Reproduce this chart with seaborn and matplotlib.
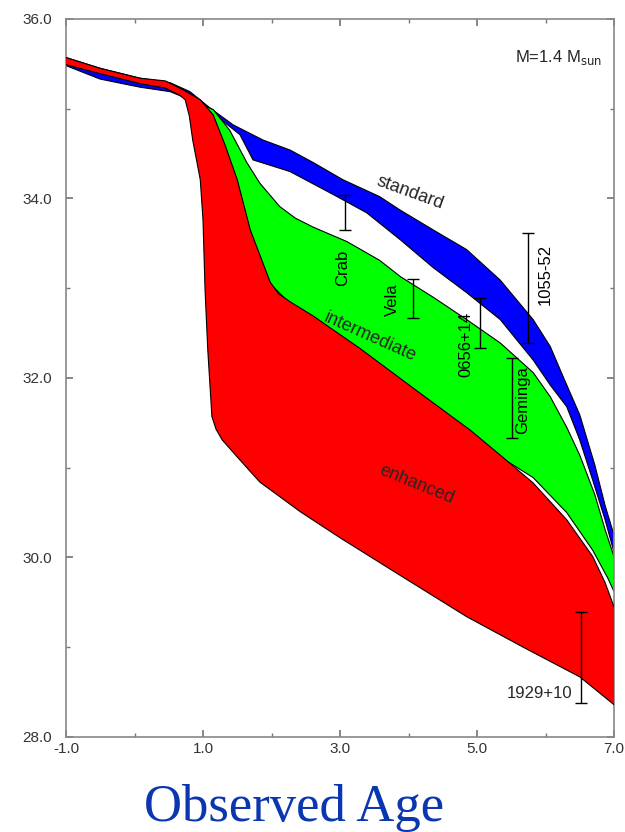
import numpy as np
import matplotlib
matplotlib.use("Agg")
import matplotlib.pyplot as plt
import seaborn as sns
from matplotlib.ticker import FormatStrFormatter

# ------------------------------------------------------------------
# cooling bands (x = log age, y = log L)
# ------------------------------------------------------------------
std_up_x = [-1.0, -0.5, 0.08, 0.52, 0.81, 1.10, 1.44, 1.88, 2.27, 2.61, 3.04, 3.58,
            3.88, 4.36, 4.85, 5.34, 5.82, 6.07, 6.26, 6.50, 6.72, 6.87, 7.0]
std_up_y = [35.57, 35.45, 35.34, 35.29, 35.19, 35.01, 34.82, 34.65, 34.54, 34.40, 34.21, 34.02,
            33.87, 33.65, 33.43, 33.09, 32.65, 32.35, 32.01, 31.59, 31.03, 30.58, 30.25]
std_lo_x = [-1.0, -0.5, 0.08, 0.52, 0.88, 1.18, 1.54, 1.73, 2.27, 2.96, 3.39, 3.88,
            4.36, 4.85, 5.34, 5.82, 6.07, 6.31, 6.50, 6.69, 6.87, 7.0]
std_lo_y = [35.48, 35.33, 35.24, 35.19, 35.08, 34.93, 34.71, 34.43, 34.30, 34.02, 33.84, 33.54,
            33.23, 32.95, 32.65, 32.20, 31.92, 31.68, 31.31, 30.86, 30.42, 30.06]

int_up_x = [-1.0, 0.08, 0.71, 0.81, 1.15, 1.39, 1.64, 1.83, 2.12, 2.35, 2.61, 3.10, 3.58,
            3.88, 4.36, 4.85, 5.34, 5.82, 6.07, 6.31, 6.50, 6.72, 6.87, 7.0]
int_up_y = [35.55, 35.32, 35.20, 35.10, 34.99, 34.76, 34.40, 34.17, 33.91, 33.78, 33.68, 33.52, 33.31,
            33.13, 32.90, 32.65, 32.39, 32.06, 31.79, 31.45, 31.14, 30.70, 30.31, 30.01]
int_lo_x = [-1.0, 0.08, 0.71, 0.96, 1.15, 1.32, 1.50, 1.69, 1.83, 1.98, 2.27, 2.61,
            3.29, 4.17, 4.90, 5.34, 5.82, 6.31, 6.69, 6.91, 7.0]
int_lo_y = [35.50, 35.30, 35.19, 35.08, 34.90, 34.58, 34.19, 33.63, 33.35, 33.05, 32.83, 32.67,
            32.31, 31.81, 31.40, 31.12, 30.89, 30.50, 30.08, 29.77, 29.62]

enh_up_x = [-1.0, -0.5, 0.08, 0.45, 0.71, 0.96, 1.15, 1.32, 1.50, 1.69, 1.83, 1.98, 2.10,
            2.27, 2.61, 3.29, 4.17, 4.90, 5.34, 5.82, 6.31, 6.69, 6.87, 7.0]
enh_up_y = [35.57, 35.45, 35.34, 35.31, 35.21, 35.10, 34.93, 34.60, 34.21, 33.65, 33.37, 33.07, 32.94,
            32.85, 32.69, 32.33, 31.83, 31.42, 31.14, 30.83, 30.42, 30.01, 29.72, 29.45]
enh_lo_x = [-1.0, -0.5, 0.08, 0.45, 0.66, 0.74, 0.80, 0.85, 0.96, 1.00, 1.03, 1.07, 1.13,
            1.19, 1.28, 1.50, 1.83, 2.42, 3.00, 3.88, 4.85, 5.70, 6.50, 7.0]
enh_lo_y = [35.49, 35.39, 35.28, 35.23, 35.15, 35.10, 34.92, 34.65, 34.21, 33.76, 32.98, 32.31, 31.57,
            31.43, 31.31, 31.12, 30.84, 30.51, 30.22, 29.80, 29.34, 28.99, 28.67, 28.36]

# observed pulsars: log age, log L range
psr_names = ["Crab", "Vela", "0656+14", "Geminga", "1055-52", "1929+10"]
psr_age = [3.07, 4.07, 5.04, 5.51, 5.74, 6.52]
psr_lo = [33.65, 32.67, 32.33, 31.33, 32.39, 28.38]
psr_hi = [34.04, 33.10, 32.89, 32.22, 33.62, 29.39]

xticks = [-1, 1, 3, 5, 7]
yticks = [28, 30, 32, 34, 36]

# ------------------------------------------------------------------
sns.set_theme(style="ticks")
plt.rcParams["font.family"] = ["Liberation Sans", "DejaVu Sans"]

fig = plt.figure(figsize=(6.25, 8.32), dpi=100)
ax = fig.add_axes([0.1056, 0.1142, 0.8768, 0.863])


def band(xu, yu, xl, yl, color, z):
    ax.fill(np.r_[xu, xl[::-1]], np.r_[yu, yl[::-1]], color=color, lw=0, zorder=z)
    for xx, yy in ((xu, yu), (xl, yl)):
        sns.lineplot(x=xx, y=yy, sort=False, estimator=None, color="black",
                     lw=0.8, ax=ax, zorder=z + 0.5)


band(std_up_x, std_up_y, std_lo_x, std_lo_y, "#0000ff", 1)
band(int_up_x, int_up_y, int_lo_x, int_lo_y, "#00ff00", 2)
band(enh_up_x, enh_up_y, enh_lo_x, enh_lo_y, "#ff0000", 3)

# pulsar error bars
lo = np.array(psr_lo)
hi = np.array(psr_hi)
ax.errorbar(psr_age, (lo + hi) / 2, yerr=(hi - lo) / 2, fmt="none", ecolor="black",
            elinewidth=1, capsize=4, capthick=1, zorder=6)

lab_kw = dict(fontsize=12, color="black", ha="center", va="center", zorder=7)
ax.text(3.04, 33.23, "Crab", rotation=90, **lab_kw)
ax.text(3.77, 32.87, "Vela", rotation=90, **lab_kw)
ax.text(4.84, 32.37, "0656+14", rotation=90, **lab_kw)
ax.text(5.66, 31.75, "Geminga", rotation=90, **lab_kw)
ax.text(5.99, 33.15, "1055-52", rotation=90, **lab_kw)
ax.text(6.39, 28.49, "1929+10", fontsize=12, ha="right", va="center", zorder=7)

# band names
ax.text(4.02, 34.06, "standard", rotation=-20, fontsize=13, ha="center", va="center", zorder=7)
ax.text(3.44, 32.46, "intermediate", rotation=-24, fontsize=13, ha="center", va="center", zorder=7)
ax.text(4.12, 30.81, "enhanced", rotation=-22, fontsize=13, ha="center", va="center", zorder=7)

ax.text(6.82, 35.57, r"M=1.4 M$_{\rm sun}$", fontsize=12, ha="right", va="center")

# axes styling
ax.set_xlim(-1, 7)
ax.set_ylim(28, 36)
ax.set_xticks(xticks)
ax.set_xticks([0, 2, 4, 6], minor=True)
ax.set_yticks(yticks)
ax.set_yticks([29, 31, 33, 35], minor=True)
ax.xaxis.set_major_formatter(FormatStrFormatter("%.1f"))
ax.yaxis.set_major_formatter(FormatStrFormatter("%.1f"))
ax.tick_params(which="both", direction="in", top=True, right=True, color="#777777",
               labelsize=11, labelcolor="#333333")
ax.tick_params(which="major", length=5)
ax.tick_params(which="minor", length=3)
ax.tick_params(axis="y", pad=10)
for sp in ax.spines.values():
    sp.set_color("#888888")
    sp.set_linewidth(1.2)
ax.set_xlabel("")
ax.set_ylabel("")

fig.text(0.47, 0.0132, "Observed Age", family=["Liberation Serif", "DejaVu Serif"],
         fontsize=38, color="#0a36b0", ha="center", va="baseline")

fig.savefig("out.png", dpi=100)
